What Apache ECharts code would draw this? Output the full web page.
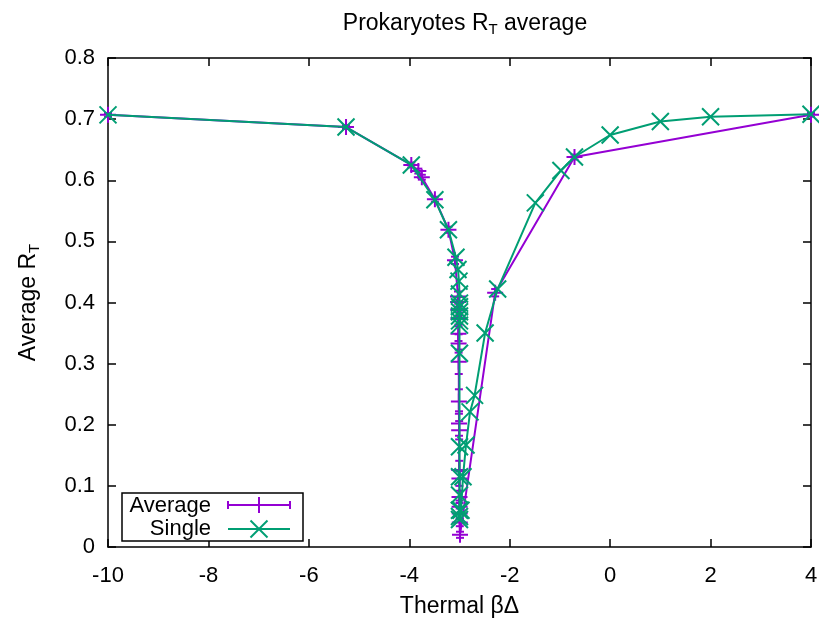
<!DOCTYPE html>
<html><head><meta charset="utf-8">
<script src="https://cdn.jsdelivr.net/npm/echarts@6/dist/echarts.min.js"></script>
<style>html,body{margin:0;padding:0;background:#fff}#c{width:819px;height:618px}</style>
</head><body><div id="c"></div>
<script>
// ---- data ----
var xTicks = [-10, -8, -6, -4, -2, 0, 2, 4];
var yTicks = [0, 0.1, 0.2, 0.3, 0.4, 0.5, 0.6, 0.7, 0.8];
var avgX = [-10, -5.26, -3.96, -3.82, -3.75, -3.49, -3.22, -3.09, -3.03, -3.028, -3.025, -3.022, -3.02, -3.018, -3.015, -3.012, -3.01, -3.007, -3.005, -3.002, -3.0, -2.998, -2.996, -2.994, -2.99, -2.29, -0.71, 4];
var avgY = [0.707, 0.687, 0.625, 0.615, 0.605, 0.569, 0.519, 0.469, 0.410, 0.401, 0.388, 0.374, 0.349, 0.333, 0.303, 0.238, 0.202, 0.191, 0.126, 0.112, 0.082, 0.066, 0.055, 0.040, 0.020, 0.416, 0.638, 0.707];
var avgErr = [0.003, 0.003, 0.004, 0.004, 0.004, 0.004, 0.005, 0.006, 0.008, 0.008, 0.01, 0.01, 0.012, 0.015, 0.02, 0.02, 0.02, 0.015, 0.015, 0.012, 0.01, 0.01, 0.008, 0.006, 0.005, 0.006, 0.004, 0.003];
var singleX = [-10, -5.26, -3.96, -3.49, -3.22, -3.07, -3.03, -3.01, -3.0, -3.0, -3.0, -3.0, -3.0, -3.0, -3.0, -3.0, -3.0, -3.0, -3.0, -3.0, -3.0, -3.0, -2.97, -2.93, -2.87, -2.79, -2.70, -2.49, -2.24, -1.49, -0.98, -0.71, 0, 1, 2, 4];
var singleY = [0.707, 0.687, 0.625, 0.568, 0.519, 0.474, 0.454, 0.435, 0.414, 0.399, 0.393, 0.385, 0.378, 0.370, 0.363, 0.317, 0.164, 0.115, 0.085, 0.060, 0.050, 0.045, 0.060, 0.115, 0.167, 0.221, 0.248, 0.350, 0.422, 0.563, 0.616, 0.638, 0.674, 0.696, 0.704, 0.708];
var seriesNames = ['Average', 'Single'];
var titleText = 'Prokaryotes R{s|T} average';
var xName = 'Thermal βΔ';
var yName = 'Average R{s|T}';

// ---- chart ----
var PURPLE = '#9400d3', GREEN = '#009e73', FONT = 'Liberation Sans', FS = 22, FN = 23;
var avgData = avgX.map(function (x, i) { return [x, avgY[i]]; });
var errData = avgX.map(function (x, i) { return [x, avgY[i] - avgErr[i], avgY[i] + avgErr[i]]; });
var singleData = singleX.map(function (x, i) { return [x, singleY[i]]; });
var PLUS = 'path://M0,5L10,5M5,0L5,10';
var CROSS = 'path://M0,0L10,10M0,10L10,0';
var sub = { s: { fontSize: 15, fontFamily: FONT, color: '#000', padding: [12, 0, 0, 0] } };

var chart = echarts.init(document.getElementById('c'), null, { renderer: 'canvas' });
var axisCommon = {
  type: 'value', splitLine: { show: false },
  axisLine: { onZero: false, lineStyle: { color: '#000', width: 1.5 } },
  axisTick: { inside: true, length: 8, lineStyle: { color: '#000', width: 1.5 } }
};
chart.setOption({
  animation: false,
  backgroundColor: '#fff',
  title: {
    text: titleText, left: 460, top: 5, textAlign: 'center',
    textStyle: { fontFamily: FONT, fontSize: FN, fontWeight: 'normal', color: '#000', rich: sub }
  },
  grid: { left: 108, right: 8, top: 58, bottom: 71, containLabel: false, outerBoundsMode: 'none' },
  xAxis: [
    Object.assign({}, axisCommon, {
      min: -10, max: 4, interval: 2, position: 'bottom',
      name: xName, nameLocation: 'middle', nameGap: 48,
      nameTextStyle: { fontFamily: FONT, fontSize: FN, color: '#000' },
      axisLabel: { fontFamily: FONT, fontSize: FS, color: '#000', margin: 18 }
    }),
    Object.assign({}, axisCommon, { min: -10, max: 4, interval: 2, position: 'top', axisLabel: { show: false } })
  ],
  yAxis: [
    Object.assign({}, axisCommon, {
      min: 0, max: 0.8, interval: 0.1, position: 'left',
      name: yName, nameLocation: 'middle', nameGap: 66, nameRotate: 90,
      nameTextStyle: { fontFamily: FONT, fontSize: FN, color: '#000', rich: sub },
      axisLabel: { fontFamily: FONT, fontSize: FS, color: '#000', margin: 13,
        formatter: function (v) { return v === 0 ? '0' : v.toFixed(1); } }
    }),
    Object.assign({}, axisCommon, { min: 0, max: 0.8, interval: 0.1, position: 'right', axisLabel: { show: false } })
  ],
  series: [
    {
      name: seriesNames[0], type: 'line', data: avgData, clip: false,
      lineStyle: { color: PURPLE, width: 2 },
      symbol: PLUS, symbolSize: 16,
      itemStyle: { color: PURPLE, borderColor: PURPLE, borderWidth: 2 }, z: 2
    },
    {
      name: seriesNames[0] + ' err', type: 'custom', data: errData, clip: false, z: 2,
      renderItem: function (params, api) {
        var lo = api.coord([api.value(0), api.value(1)]);
        var hi = api.coord([api.value(0), api.value(2)]);
        var w = 4, st = { stroke: PURPLE, lineWidth: 2 };
        return { type: 'group', children: [
          { type: 'line', shape: { x1: lo[0], y1: lo[1], x2: hi[0], y2: hi[1] }, style: st },
          { type: 'line', shape: { x1: lo[0] - w, y1: lo[1], x2: lo[0] + w, y2: lo[1] }, style: st },
          { type: 'line', shape: { x1: hi[0] - w, y1: hi[1], x2: hi[0] + w, y2: hi[1] }, style: st }
        ] };
      }
    },
    {
      name: seriesNames[1], type: 'line', data: singleData, clip: false,
      lineStyle: { color: GREEN, width: 2 },
      symbol: CROSS, symbolSize: 17,
      itemStyle: { color: GREEN, borderColor: GREEN, borderWidth: 2 }, z: 3
    }
  ],
  graphic: [
    { type: 'rect', shape: { x: 122, y: 493, width: 181, height: 48 }, style: { fill: '#fff', stroke: '#000', lineWidth: 1.5 }, z: 10 },
    { type: 'text', x: 211, y: 506, style: { text: seriesNames[0], font: FS + 'px "Liberation Sans"', fill: '#000', textAlign: 'right', textVerticalAlign: 'middle' }, z: 11 },
    { type: 'text', x: 211, y: 529, style: { text: seriesNames[1], font: FS + 'px "Liberation Sans"', fill: '#000', textAlign: 'right', textVerticalAlign: 'middle' }, z: 11 },
    { type: 'polyline', shape: { points: [[228, 505], [290, 505]] }, style: { stroke: PURPLE, lineWidth: 2 }, z: 11 },
    { type: 'polyline', shape: { points: [[228, 501], [228, 509]] }, style: { stroke: PURPLE, lineWidth: 2 }, z: 11 },
    { type: 'polyline', shape: { points: [[290, 501], [290, 509]] }, style: { stroke: PURPLE, lineWidth: 2 }, z: 11 },
    { type: 'polyline', shape: { points: [[259, 497], [259, 513]] }, style: { stroke: PURPLE, lineWidth: 2 }, z: 11 },
    { type: 'polyline', shape: { points: [[228, 529], [290, 529]] }, style: { stroke: GREEN, lineWidth: 2 }, z: 11 },
    { type: 'polyline', shape: { points: [[250.5, 520.5], [267.5, 537.5]] }, style: { stroke: GREEN, lineWidth: 2 }, z: 11 },
    { type: 'polyline', shape: { points: [[250.5, 537.5], [267.5, 520.5]] }, style: { stroke: GREEN, lineWidth: 2 }, z: 11 }
  ]
});
</script></body></html>
